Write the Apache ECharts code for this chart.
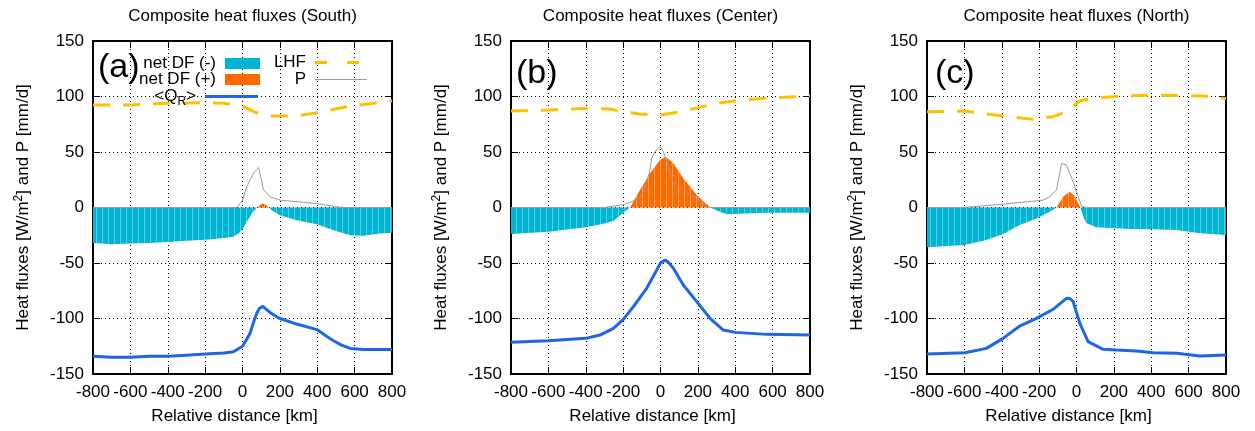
<!DOCTYPE html>
<html lang="en">
<head>
    <meta charset="UTF-8">
    <title>Composite heat fluxes</title>
    <script src="https://cdn.jsdelivr.net/npm/echarts@6/dist/echarts.min.js"></script>
    <style>
        body { margin: 0; background: #fff; }
    </style>
</head>
<body>
    <div id="chart" style="width: 1255px; height: 431px;"></div>

    <script>
        // panel titles and labels
        var panelTitles = ['Composite heat fluxes (South)', 'Composite heat fluxes (Center)', 'Composite heat fluxes (North)'];
        var panelTags = ['(a)', '(b)', '(c)'];
        var xTicks = [-800, -600, -400, -200, 0, 200, 400, 600, 800];
        var yTicks = [-150, -100, -50, 0, 50, 100, 150];

        // [distance km, value]
        // South
        var lhfSouth = [[-800, 92.3], [-600, 92.3], [-400, 93.9], [-200, 94.4], [-100, 93.9], [0, 91.4], [59, 86.3], [148, 82.4], [290, 82.4], [398, 85.4], [558, 90.8], [800, 96.2]];
        var pSouth = [[-800, 0], [-30, 0], [0, 6.6], [23, 18.6], [59, 31], [86, 36], [100, 26], [112, 16], [148, 9.6], [202, 6.6], [398, 3.6], [505, 0.6], [550, 0], [800, 0]];
        var qrSouth = [[-800, -134], [-700, -135], [-600, -135], [-500, -134], [-400, -134], [-300, -133], [-200, -132], [-100, -131], [-48, -130], [0, -125], [25, -118], [41, -113], [60, -103], [77, -95], [90, -91], [109, -89], [150, -95], [200, -100], [290, -105], [398, -110], [450, -116], [487, -120], [530, -124], [576, -127], [647, -128], [720, -128], [800, -128]];
        var dfSouth = [[-800, -32], [-700, -33], [-600, -32.5], [-500, -32], [-400, -31], [-300, -30], [-200, -29], [-100, -27.5], [-48, -26.4], [-12, -22], [5, -18], [23, -13], [50, -5.4], [77, 0], [95, 2.5], [109, 3.6], [125, 2.5], [140, 0], [160, -3], [200, -7], [290, -11.4], [398, -15], [487, -20.4], [576, -25], [647, -25.5], [736, -23.4], [800, -22.8]];

        // Center
        var lhfCenter = [[-800, 86.9], [-600, 87.8], [-400, 89.3], [-270, 88.7], [-200, 86.3], [-110, 84.2], [0, 83.3], [104, 86.3], [211, 90.2], [300, 93.8], [400, 96], [568, 98.6], [800, 100.4]];
        var pCenter = [[-800, 0], [-300, 0], [-200, 2.5], [-163, 4.5], [-110, 9], [-92, 14], [-60, 31], [-47, 44.5], [-30, 50], [-3, 55], [10, 52], [27, 45], [51, 31], [69, 23], [123, 15.8], [200, 7], [250, 2.3], [265, 0], [800, 0]];
        var qrCenter = [[-800, -121.5], [-600, -120], [-400, -117.9], [-324, -114.9], [-252, -108.9], [-199, -100.8], [-145, -89.3], [-74, -72.8], [-20, -56.3], [0, -50], [24, -47.3], [40, -49], [69, -54.8], [122, -69.8], [194, -84.8], [265, -99.8], [336, -110.4], [400, -112.5], [568, -114.3], [800, -114.9]];
        var dfCenter = [[-800, -23.9], [-600, -21.8], [-400, -17.9], [-300, -14.5], [-252, -12.2], [-199, -4.7], [-163, 0], [-110, 15.8], [-56, 30.8], [-3, 42.8], [28, 45.8], [69, 39.8], [122, 26.3], [194, 11.3], [265, 0], [318, -3.9], [354, -6], [450, -5.5], [568, -4.7], [800, -4.7]];

        // North
        var lhfNorth = [[-800, 86.3], [-598, 86.9], [-393, 82.4], [-232, 79.4], [-125, 81.8], [-54, 86.3], [18, 96.2], [107, 98.9], [214, 100.1], [393, 101.3], [536, 101], [679, 100.4], [800, 98.3]];
        var pNorth = [[-800, 0], [-607, 0], [-393, 3], [-179, 6.6], [-143, 9.8], [-107, 15.8], [-80, 39.8], [-54, 38.3], [-18, 23.3], [27, 1.3], [54, 0], [800, 0]];
        var qrNorth = [[-800, -132], [-598, -130.8], [-482, -126.9], [-393, -117.9], [-304, -106.8], [-214, -99.9], [-125, -91.7], [-54, -81.8], [-36, -82], [-18, -84.8], [18, -104.3], [62, -120.9], [143, -127.8], [214, -128.4], [321, -129.3], [411, -130.8], [536, -131.4], [661, -133.8], [800, -132.9]];
        var dfNorth = [[-800, -35.9], [-598, -33.8], [-482, -29.3], [-393, -23.9], [-304, -15.8], [-214, -9.8], [-143, -3.8], [-107, 0], [-71, 9.8], [-36, 14.3], [-9, 9.8], [21, 0], [40, -10], [54, -14.3], [107, -17.9], [214, -18.8], [286, -19.4], [411, -19.7], [536, -20.3], [661, -23.3], [800, -24.8]];

        var panels = [
            {lhf: lhfSouth, p: pSouth, qr: qrSouth, df: dfSouth},
            {lhf: lhfCenter, p: pCenter, qr: qrCenter, df: dfCenter},
            {lhf: lhfNorth, p: pNorth, qr: qrNorth, df: dfNorth}
        ];

        var FONT = 'Liberation Sans, Arial, Helvetica, sans-serif';
        var C_NEG = '#00B4D2', C_POS = '#FF6A00', C_QR = '#1E66E6', C_LHF = '#FFC000', C_P = '#9a9a9a';
        var gridLeft = [93, 511, 927];
        var tagTop = [51, 57, 57];

        // faint white vertical stripes, like the impulses in the original fill
        var stripes = {symbol: 'rect', symbolSize: 1, dashArrayX: [1, 4.4], dashArrayY: [10, 0], rotation: 0, color: 'rgba(255,255,255,0.35)'};

        var chart = echarts.init(document.getElementById('chart'));

        var grids = [], xAxes = [], yAxes = [], series = [], titles = [];

        panels.forEach(function (d, i) {
            grids.push({left: gridLeft[i], top: 41, width: 299, height: 333, outerBoundsMode: 'none'});
            titles.push({
                text: panelTitles[i], left: gridLeft[i] + 149.5, top: 8, textAlign: 'center', padding: 0,
                textStyle: {fontSize: 17, fontWeight: 'normal', color: '#000', fontFamily: FONT}
            });
            titles.push({
                text: panelTags[i], left: gridLeft[i] + (i === 2 ? 8 : 5), top: tagTop[i], padding: 0,
                textStyle: {fontSize: 34, fontWeight: 'normal', color: '#000', fontFamily: FONT}
            });

            var tick = {show: true, inside: true, length: 7, lineStyle: {color: '#000', width: 1}};
            var line = {show: true, onZero: false, lineStyle: {color: '#000', width: 2}};
            // bottom x axis
            xAxes.push({
                type: 'value', gridIndex: i, min: -800, max: 800, interval: 200, position: 'bottom',
                axisLine: line, axisTick: tick,
                axisLabel: {color: '#000', fontSize: 17, fontFamily: FONT, margin: 10,
                    customValues: xTicks},
                splitLine: {show: true, lineStyle: {color: '#000', width: 1, type: [1, 3]}},
                name: 'Relative distance [km]', nameLocation: 'middle', nameGap: 34,
                nameTextStyle: {color: '#000', fontSize: 17, fontFamily: FONT, padding: [0, 16, 0, 0]}
            });
            // top mirror axis
            xAxes.push({
                type: 'value', gridIndex: i, min: -800, max: 800, interval: 200, position: 'top',
                axisLine: line, axisTick: tick, axisLabel: {show: false}, splitLine: {show: false}
            });
            yAxes.push({
                type: 'value', gridIndex: i, min: -150, max: 150, interval: 50, position: 'left',
                axisLine: line, axisTick: tick,
                axisLabel: {color: '#000', fontSize: 17, fontFamily: FONT, margin: 9, customValues: yTicks},
                splitLine: {show: true, lineStyle: {color: '#000', width: 1, type: [1, 3]}},
                name: 'Heat fluxes [W/m{sup|2}] and P [mm/d]', nameLocation: 'middle', nameGap: 60,
                nameTextStyle: {color: '#000', fontSize: 17, fontFamily: FONT,
                    rich: {sup: {fontSize: 12, fontFamily: FONT, color: '#000', verticalAlign: 'top', padding: [0, 0, 8, 0]}}}
            });
            yAxes.push({
                type: 'value', gridIndex: i, min: -150, max: 150, interval: 50, position: 'right',
                axisLine: line, axisTick: tick, axisLabel: {show: false}, splitLine: {show: false}
            });

            var xi = i * 2, yi = i * 2;
            var negPart = d.df.map(function (pt) { return [pt[0], Math.min(pt[1], 0)]; });
            var posPart = d.df.map(function (pt) { return [pt[0], Math.max(pt[1], 0)]; });

            series.push({
                name: 'net DF (-)', type: 'line', xAxisIndex: xi, yAxisIndex: yi, data: negPart,
                symbol: 'none', lineStyle: {width: 0, opacity: 0}, itemStyle: {color: C_NEG, decal: stripes},
                areaStyle: {color: C_NEG, opacity: 1, origin: 'auto'}
            });
            series.push({
                name: 'net DF (+)', type: 'line', xAxisIndex: xi, yAxisIndex: yi, data: posPart,
                symbol: 'none', lineStyle: {width: 0, opacity: 0}, itemStyle: {color: C_POS, decal: stripes},
                areaStyle: {color: C_POS, opacity: 1, origin: 'auto'}
            });
            series.push({
                name: 'LHF', type: 'line', xAxisIndex: xi, yAxisIndex: yi, data: d.lhf,
                symbol: 'none', itemStyle: {color: C_LHF},
                lineStyle: {color: C_LHF, width: 3, type: [17, 13]}
            });
            series.push({
                name: 'P', type: 'line', xAxisIndex: xi, yAxisIndex: yi, data: d.p,
                symbol: 'none', itemStyle: {color: C_P},
                lineStyle: {color: C_P, width: 1}
            });
            series.push({
                name: '<QR>', type: 'line', xAxisIndex: xi, yAxisIndex: yi, data: d.qr,
                symbol: 'none', itemStyle: {color: C_QR},
                lineStyle: {color: C_QR, width: 3}
            });
        });

        // legend entries inside panel (a), text on the left of the sample
        function legendItem(name, right, top, w, h, icon, color, fmt) {
            return {
                data: [{name: name, icon: icon, itemStyle: {color: color, decal: 'none'}}],
                right: right, top: top, padding: 0, align: 'right',
                itemWidth: w, itemHeight: h, itemGap: 0, selectedMode: false,
                formatter: fmt || null,
                textStyle: {fontSize: 17, color: '#000', fontFamily: FONT, padding: [0, 4, 0, 0],
                    rich: {sub: {fontSize: 12, color: '#000', fontFamily: FONT, padding: [10, 0, 0, 0]}}}
            };
        }
        var dashIcon = 'path://M0,0h12v3h-12z M32,0h12v3h-12z';
        var legends = [
            legendItem('net DF (-)', 995, 55, 35, 11, 'rect', C_NEG),
            legendItem('net DF (+)', 995, 71, 35, 11, 'rect', C_POS),
            legendItem('<QR>', 997, 88, 53, 3, 'rect', C_QR, '<Q{sub|R}>'),
            legendItem('LHF', 896, 54, 44, 3, dashIcon, C_LHF),
            legendItem('P', 888, 71, 52, 1, 'rect', C_P)
        ];

        var option = {
            animation: false,
            title: titles,
            legend: legends,
            grid: grids,
            xAxis: xAxes,
            yAxis: yAxes,
            series: series
        };
        chart.setOption(option);
    </script>
</body>
</html>
